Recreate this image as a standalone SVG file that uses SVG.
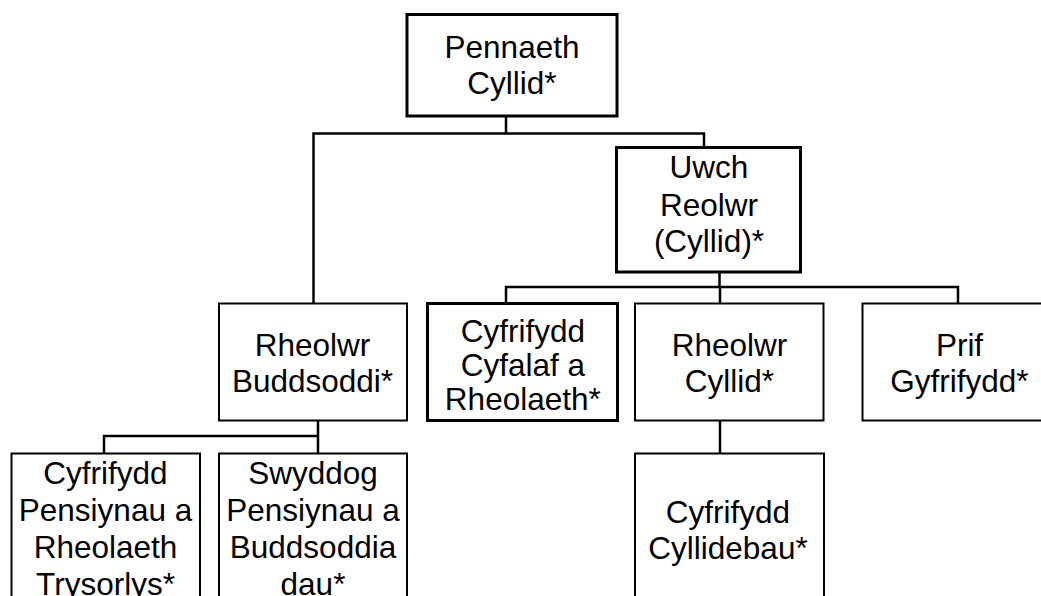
<svg xmlns="http://www.w3.org/2000/svg" width="1041" height="596" viewBox="0 0 1041 596">
<style>
.box{fill:#fff;stroke:#000;stroke-width:2}
.thick{stroke-width:3}
.c{fill:none;stroke:#000;stroke-width:2.5;stroke-linecap:square}
text{font-family:"Liberation Sans",Arial,sans-serif;font-size:31.5px;fill:#000;text-anchor:middle}
</style>
<rect width="1041" height="596" fill="#fff"/>
<g id="connectors">
<path class="c" d="M506,117V133.5M313.5,133.5H704M313.5,133.5V303M704,133.5V147"/>
<path class="c" d="M719.5,273V287M506,287H958M506,287V303M720,287V303M958,287V303"/>
<path class="c" d="M318,421V436M104,436H318M104,436V453M318,436V453"/>
<path class="c" d="M720,421V453"/>
</g>
<g id="pennaeth">
<rect class="box thick" x="407" y="14.5" width="210" height="101.5"/>
<text x="512" y="58.3">Pennaeth</text>
<text x="512" y="94.3">Cyllid*</text>
</g>
<g id="uwch">
<rect class="box thick" x="616.5" y="147.5" width="184" height="124.5"/>
<text x="709" y="178.3">Uwch</text>
<text x="709" y="215.5">Reolwr</text>
<text x="709" y="252">(Cyllid)*</text>
</g>
<g id="rheolwr-buddsoddi">
<rect class="box" x="219" y="303.5" width="188" height="117"/>
<text x="312.5" y="356">Rheolwr</text>
<text x="312.5" y="391.7">Buddsoddi*</text>
</g>
<g id="cyfrifydd-cyfalaf">
<rect class="box thick" x="427.5" y="303.5" width="190" height="117"/>
<text x="522.8" y="341.7">Cyfrifydd</text>
<text x="522.8" y="375.7">Cyfalaf a</text>
<text x="522.8" y="410">Rheolaeth*</text>
</g>
<g id="rheolwr-cyllid">
<rect class="box" x="635" y="303.5" width="188.5" height="117"/>
<text x="729.5" y="356">Rheolwr</text>
<text x="729.5" y="391.7">Cyllid*</text>
</g>
<g id="prif-gyfrifydd">
<rect class="box" x="862.5" y="303.5" width="194" height="117"/>
<text x="959.5" y="356">Prif</text>
<text x="959.5" y="391.7">Gyfrifydd*</text>
</g>
<g id="cyfrifydd-pensiynau">
<rect class="box" x="11.5" y="453.5" width="188.5" height="160"/>
<text x="105.5" y="484">Cyfrifydd</text>
<text x="105.5" y="521">Pensiynau a</text>
<text x="105.5" y="558">Rheolaeth</text>
<text x="105.5" y="595">Trysorlys*</text>
</g>
<g id="swyddog-pensiynau">
<rect class="box" x="219" y="453.5" width="188" height="160"/>
<text x="313" y="484">Swyddog</text>
<text x="313" y="521">Pensiynau a</text>
<text x="313" y="558">Buddsoddia</text>
<text x="313" y="595">dau*</text>
</g>
<g id="cyfrifydd-cyllidebau">
<rect class="box" x="635" y="453.5" width="189" height="160"/>
<text x="728" y="523">Cyfrifydd</text>
<text x="728" y="558.5">Cyllidebau*</text>
</g>
</svg>
